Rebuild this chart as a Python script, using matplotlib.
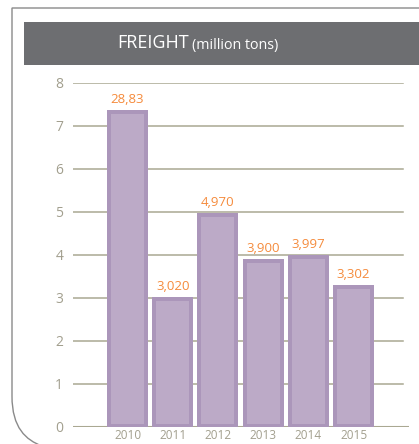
import matplotlib.pyplot as plt
from matplotlib.path import Path
from matplotlib.patches import PathPatch, Rectangle

## chart data
years = ["2010", "2011", "2012", "2013", "2014", "2015"]
bar_heights = [7.37, 3.02, 4.97, 3.90, 3.997, 3.302]
value_labels = ["28,83", "3,020", "4,970", "3,900", "3,997", "3,302"]
y_ticks = [0, 1, 2, 3, 4, 5, 6, 7, 8]

border_col = "#ab96ba"
fill_col = "#bcaac7"
orange = "#f58b3c"
grid_col = "#aaa892"
label_col = "#a29f8e"

plt.rcParams['font.family'] = ['Open Sans', 'DejaVu Sans']

W, H = 419, 444
fig = plt.figure(figsize=(W / 100, H / 100), dpi=100)

# background layer in pixel units: frame + header band
bg = fig.add_axes([0, 0, 1, 1], zorder=0)
bg.set_xlim(0, W)
bg.set_ylim(H, 0)
bg.axis('off')
frame = Path([(W, 8), (12, 8), (12, 396), (12, 428), (26, 440), (42, 446)],
             [Path.MOVETO, Path.LINETO, Path.LINETO, Path.CURVE4, Path.CURVE4, Path.CURVE4])
bg.add_patch(PathPatch(frame, facecolor='none', edgecolor='#8a8a8a', lw=1.0))
bg.add_patch(Rectangle((24, 22), W - 24, 43, facecolor='#6d6e71', edgecolor='none'))
bg.text(189, 43.5, "FREIGHT", color='white', fontsize=13, ha='right', va='center')
bg.text(192, 45.5, "(million tons)", color='white', fontsize=10.3, ha='left', va='center')

# chart axes
left, right = 73, 409
bottom, top = 426.7, 82.7
ax = fig.add_axes([left / W, 1 - bottom / H, (right - left) / W, (bottom - top) / H], zorder=1)
ax.patch.set_alpha(0)

pitch = 45.2  # px per category
xs = list(range(len(years)))
ax.set_xlim((left - 127.5) / pitch, (right - 127.5) / pitch)
ax.set_ylim(0, 8)

for y in y_ticks[1:]:
    ax.axhline(y, xmin=0, xmax=(403 - left) / (right - left), color=grid_col, lw=1.1, zorder=0)
ax.axhline(0, color=grid_col, lw=1.5, zorder=0)

bw = 41 / pitch
side = 4 / pitch
top_b = 4 / 43
bot_b = 3 / 43
ax.bar(xs, bar_heights, width=bw, color=border_col, zorder=2)
ax.bar(xs, [h - top_b - bot_b for h in bar_heights], bottom=bot_b,
       width=bw - 2 * side, color=fill_col, zorder=3)

for x, h, lab in zip(xs, bar_heights, value_labels):
    ax.annotate(lab, (x, h), xytext=(0, 3), textcoords='offset points',
                ha='center', va='bottom', color=orange, fontsize=9.5, annotation_clip=False)

ax.set_xticks(xs)
ax.set_xticklabels(years)
ax.set_yticks(y_ticks)
ax.set_yticklabels([str(t) for t in y_ticks])
ax.tick_params(axis='y', length=0, pad=7, labelsize=10, labelcolor=label_col)
ax.tick_params(axis='x', length=0, pad=2, labelsize=8.5, labelcolor=label_col)
for s in ax.spines.values():
    s.set_visible(False)

fig.savefig("out.png", dpi=100)
